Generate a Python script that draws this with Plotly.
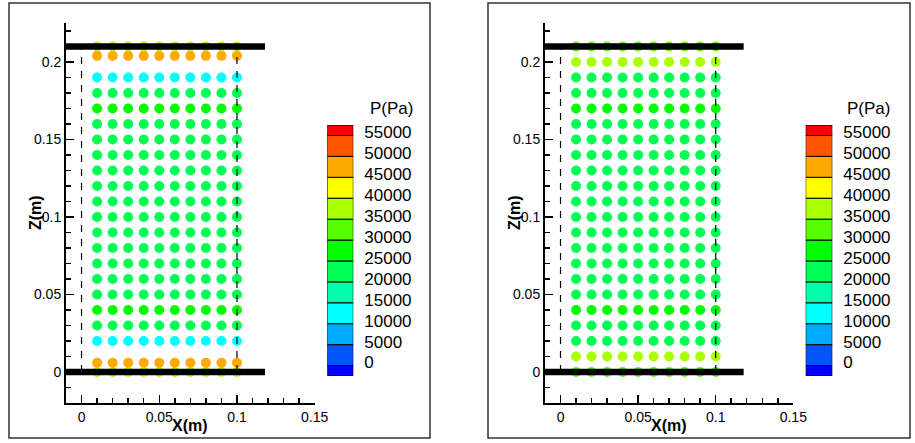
import plotly.graph_objects as go

W, H = 915, 443

# ---------------- data ----------------
col_x = [0.01, 0.02, 0.03, 0.04, 0.05, 0.06, 0.07, 0.08, 0.09, 0.10]

left_row_z = [0.0, 0.006, 0.02, 0.03, 0.04, 0.05, 0.06, 0.07, 0.08, 0.09, 0.10,
              0.11, 0.12, 0.13, 0.14, 0.15, 0.16, 0.17, 0.18, 0.19, 0.204, 0.21]
left_row_p = [37000, 47000, 12000, 22000, 27000, 22000, 22000, 22000, 22000, 22000, 22000,
              22000, 22000, 22000, 22000, 22000, 22000, 27000, 22000, 12000, 47000, 37000]

right_row_z = [0.0, 0.01, 0.02, 0.03, 0.04, 0.05, 0.06, 0.07, 0.08, 0.09, 0.10,
               0.11, 0.12, 0.13, 0.14, 0.15, 0.16, 0.17, 0.18, 0.19, 0.20, 0.21]
right_row_p = [32000, 37000, 22000, 22000, 27000, 22000, 22000, 22000, 22000, 22000, 22000,
               22000, 22000, 22000, 22000, 22000, 22000, 27000, 22000, 22000, 37000, 32000]

wall_x = [-0.01, 0.118]
wall_z = [0.0, 0.21]
dash_x = [0.0, 0.1]
dash_z = [0.0, 0.21]

levels = [0, 5000, 10000, 15000, 20000, 25000, 30000, 35000, 40000, 45000, 50000, 55000]
level_labels = ["0", "5000", "10000", "15000", "20000", "25000", "30000",
                "35000", "40000", "45000", "50000", "55000"]
band_colors = ["rgb(0,0,255)", "rgb(0,85,255)", "rgb(0,170,255)", "rgb(0,255,255)",
               "rgb(0,255,170)", "rgb(0,255,85)", "rgb(0,255,0)", "rgb(85,255,0)",
               "rgb(170,255,0)", "rgb(255,255,0)", "rgb(255,170,0)", "rgb(255,85,0)",
               "rgb(255,0,0)"]
p_min, p_max = -2500, 57500

x_ticks = [0, 0.05, 0.1, 0.15]
x_ticktext = ["0", "0.05", "0.1", "0.15"]
z_ticks = [0, 0.05, 0.1, 0.15, 0.2]
z_ticktext = ["0", "0.05", "0.1", "0.15", "0.2"]

# ---------------- derived ----------------
band_lo = [p_min] + levels
band_hi = levels + [p_max]
span = p_max - p_min
colorscale = []
for lo, hi, c in zip(band_lo, band_hi, band_colors):
    colorscale.append([(lo - p_min) / span, c])
    colorscale.append([(hi - p_min) / span, c])

FONT = "Liberation Sans, Arial, Helvetica, sans-serif"

fig = go.Figure()


def grid(row_z, row_p):
    xs, zs, ps = [], [], []
    for z, p in zip(row_z, row_p):
        for x in col_x:
            xs.append(x)
            zs.append(z)
            ps.append(p)
    return xs, zs, ps


panels = [
    ("x", "y", left_row_z, left_row_p),
    ("x2", "y2", right_row_z, right_row_p),
]
for xa, ya, rz, rp in panels:
    xs, zs, ps = grid(rz, rp)
    fig.add_trace(go.Scatter(
        x=xs, y=zs, mode="markers", xaxis=xa, yaxis=ya,
        marker=dict(size=10, color=ps, colorscale=colorscale, cmin=p_min, cmax=p_max,
                    showscale=False, line=dict(width=0)),
        showlegend=False, hoverinfo="skip"))
    for dx in dash_x:
        fig.add_trace(go.Scatter(
            x=[dx, dx], y=dash_z, mode="lines", xaxis=xa, yaxis=ya,
            line=dict(color="black", width=1.2, dash="7px,7px"),
            showlegend=False, hoverinfo="skip"))
    for wz in wall_z:
        fig.add_trace(go.Scatter(
            x=wall_x, y=[wz, wz], mode="lines", xaxis=xa, yaxis=ya,
            line=dict(color="black", width=6.5),
            showlegend=False, hoverinfo="skip"))

# colour legends as stacked bars
for xa, ya in [("x3", "y3"), ("x4", "y4")]:
    fig.add_trace(go.Bar(
        x=[0] * len(band_lo), y=[h - l for l, h in zip(band_lo, band_hi)], base=band_lo,
        width=1, xaxis=xa, yaxis=ya,
        marker=dict(color=band_colors, line=dict(color="black", width=1)),
        showlegend=False, hoverinfo="skip"))

ydom = [1 - 403 / H, 1 - 23.3 / H]
main_ax = dict(showline=True, linewidth=2, linecolor="black", showgrid=False, zeroline=False,
               automargin=False,
               ticks="inside", ticklen=8, tickwidth=1.5, tickcolor="black",
               tickfont=dict(family=FONT, size=14, color="black"))
xmain = dict(main_ax, range=[-0.01, 0.15], tickmode="array", tickvals=x_ticks, ticktext=x_ticktext,
             minor=dict(dtick=0.01, tick0=0, ticks="inside", ticklen=5, tickwidth=1.5, tickcolor="black"))
ymain = dict(main_ax, range=[-0.02, 0.225], tickmode="array", tickvals=z_ticks, ticktext=z_ticktext,
             minor=dict(dtick=0.01, tick0=0, ticks="inside", ticklen=5, tickwidth=1.5, tickcolor="black"))

cb_y = dict(range=[p_min, p_max], domain=[1 - 376 / H, 1 - 125 / H], showgrid=False, zeroline=False,
            showline=False, side="right", ticks="", tickmode="array", tickvals=levels,
            ticktext=level_labels, ticklabelstandoff=10, ticklabelshift=-3, automargin=False,
            tickfont=dict(family=FONT, size=17, color="black"))
cb_x = dict(range=[-0.5, 0.5], showgrid=False, zeroline=False, showline=False, automargin=False,
            showticklabels=False, ticks="")

fig.update_layout(
    template="none",
    width=W, height=H, autosize=False, margin=dict(l=0, r=0, t=0, b=0, pad=0),
    paper_bgcolor="white", plot_bgcolor="rgba(0,0,0,0)",
    xaxis=dict(xmain, domain=[66 / W, 314.7 / W], anchor="y"),
    yaxis=dict(ymain, domain=ydom, anchor="x"),
    xaxis2=dict(xmain, domain=[545 / W, 793.3 / W], anchor="y2"),
    yaxis2=dict(ymain, domain=ydom, anchor="x2"),
    xaxis3=dict(cb_x, domain=[327.3 / W, 353.3 / W], anchor="y3"),
    yaxis3=dict(cb_y, anchor="x3"),
    xaxis4=dict(cb_x, domain=[805.7 / W, 832.3 / W], anchor="y4"),
    yaxis4=dict(cb_y, anchor="x4"),
    barmode="overlay",
    shapes=[
        dict(type="rect", xref="paper", yref="paper", x0=9 / W, x1=430 / W,
             y0=1 - 438 / H, y1=1 - 3 / H, line=dict(color="#333333", width=1.5)),
        dict(type="rect", xref="paper", yref="paper", x0=488 / W, x1=910 / W,
             y0=1 - 438 / H, y1=1 - 3 / H, line=dict(color="#333333", width=1.5)),
    ],
)

ann = []
for xc, zc, cbx in [(190.3, 36, 391.7), (669, 515, 868.3)]:
    ann.append(dict(text="<b>X(m)</b>", xref="paper", yref="paper", x=xc / W, y=1 - 425.7 / H,
                    xanchor="center", yanchor="middle", showarrow=False,
                    font=dict(family=FONT, size=16, color="black")))
    ann.append(dict(text="<b>Z(m)</b>", xref="paper", yref="paper", x=zc / W, y=1 - 213 / H,
                    xanchor="center", yanchor="middle", showarrow=False, textangle=-90,
                    font=dict(family=FONT, size=16, color="black")))
    ann.append(dict(text="P(Pa)", xref="paper", yref="paper", x=cbx / W, y=1 - 108.3 / H,
                    xanchor="center", yanchor="middle", showarrow=False,
                    font=dict(family=FONT, size=17, color="black")))
fig.update_layout(annotations=ann)

fig.write_html("out.html",
               config=dict(responsive=False, displayModeBar=False, staticPlot=True),
               post_script="document.body.style.margin='0px';document.body.style.overflow='hidden';")
